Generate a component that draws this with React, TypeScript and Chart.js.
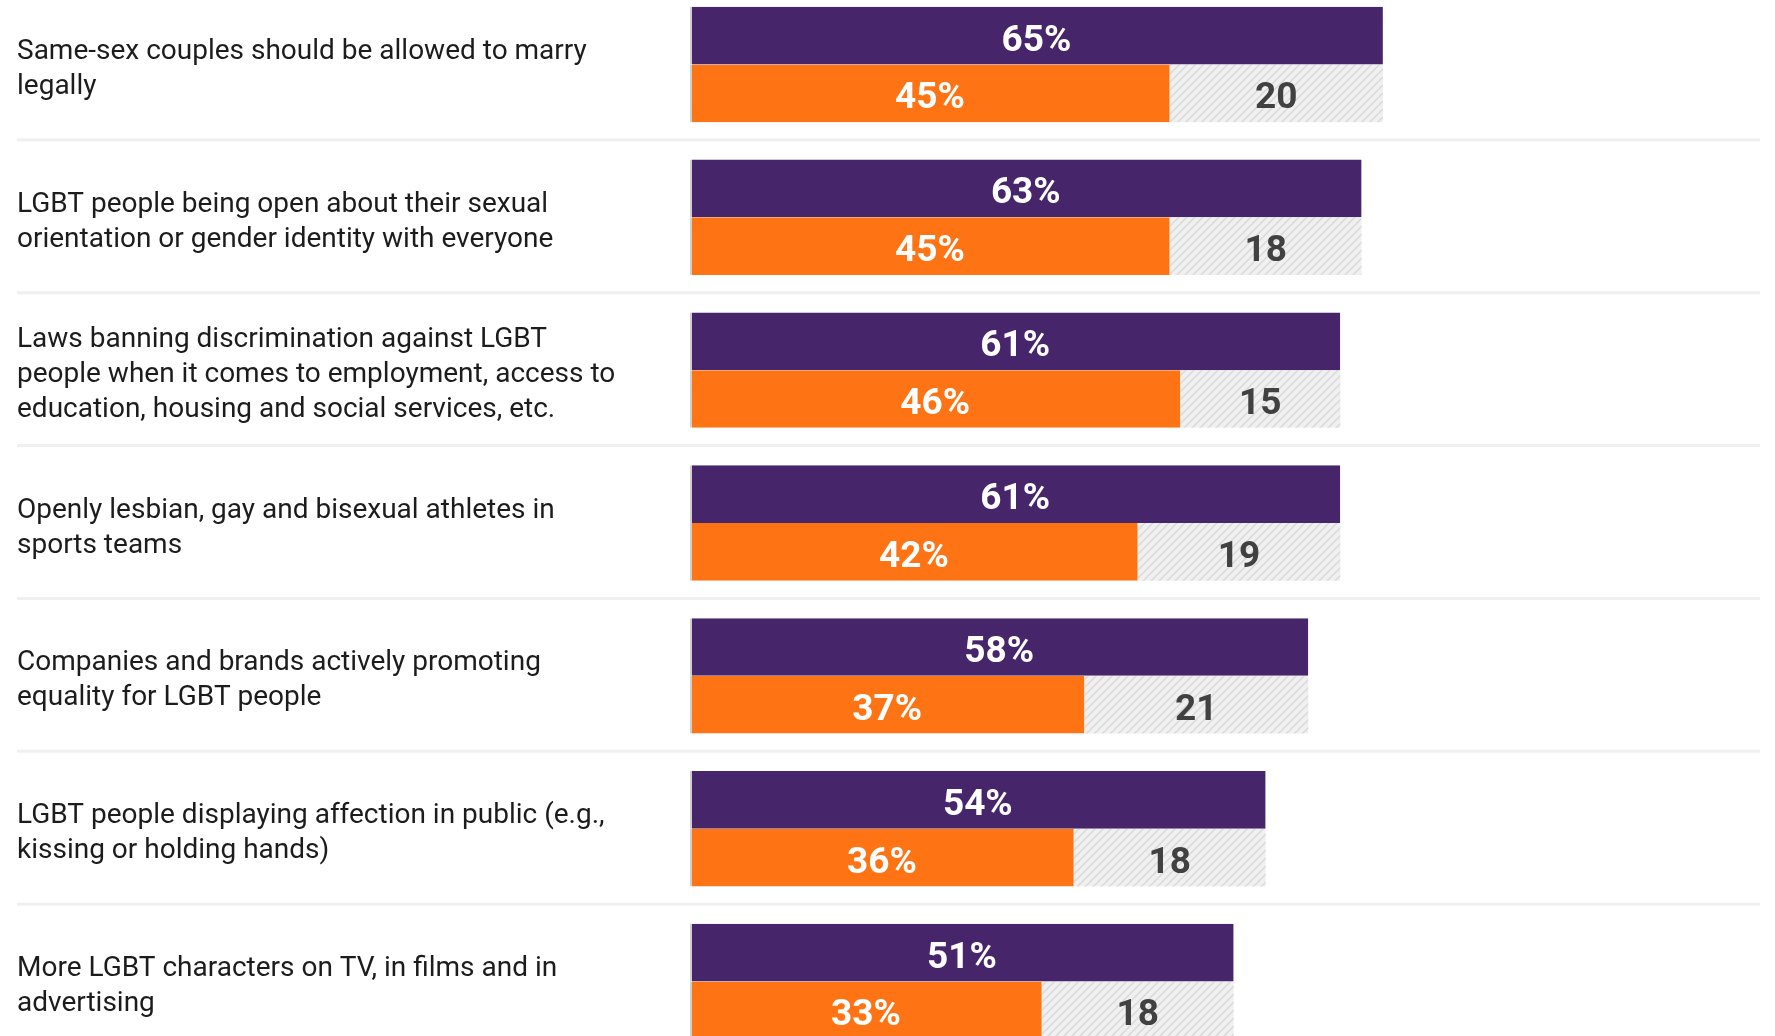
import React, { useEffect, useRef } from 'react';
import { Chart, registerables } from 'chart.js';

Chart.register(...registerables);

const categories: string[][] = [
  ['Same-sex couples should be allowed to marry', 'legally'],
  ['LGBT people being open about their sexual', 'orientation or gender identity with everyone'],
  ['Laws banning discrimination against LGBT', 'people when it comes to employment, access to', 'education, housing and social services, etc.'],
  ['Openly lesbian, gay and bisexual athletes in', 'sports teams'],
  ['Companies and brands actively promoting', 'equality for LGBT people'],
  ['LGBT people displaying affection in public (e.g.,', 'kissing or holding hands)'],
  ['More LGBT characters on TV, in films and in', 'advertising'],
];

const totalValues = [65, 63, 61, 61, 58, 54, 51];
const strongValues = [45, 45, 46, 42, 37, 36, 33];
const somewhatValues = [20, 18, 15, 19, 21, 18, 18];

const PURPLE = '#46256a';
const ORANGE = '#fe7414';

function makeHatch(): CanvasPattern | string {
  const c = document.createElement('canvas');
  const s = 8;
  c.width = s;
  c.height = s;
  const ctx = c.getContext('2d');
  if (!ctx) return '#efefef';
  ctx.fillStyle = '#f0f0f0';
  ctx.fillRect(0, 0, s, s);
  ctx.strokeStyle = '#d9d9d9';
  ctx.lineWidth = 1.5;
  ctx.beginPath();
  ctx.moveTo(0, s);
  ctx.lineTo(s, 0);
  ctx.moveTo(-s / 2, s / 2);
  ctx.lineTo(s / 2, -s / 2);
  ctx.moveTo(s / 2, s * 1.5);
  ctx.lineTo(s * 1.5, s / 2);
  ctx.stroke();
  return ctx.createPattern(c, 'repeat') || '#efefef';
}

const separatorPlugin = {
  id: 'separators',
  beforeDatasetsDraw(chart: any) {
    const y = chart.scales.y;
    const ctx = chart.ctx;
    ctx.save();
    ctx.strokeStyle = '#f0f0f0';
    ctx.lineWidth = 3;
    for (let i = 0; i < categories.length; i++) {
      const py = (y.getPixelForValue(i) + y.getPixelForValue(i + 1)) / 2 - 1;
      ctx.beginPath();
      ctx.moveTo(17, py);
      ctx.lineTo(chart.chartArea.right + 4, py);
      ctx.stroke();
    }
    ctx.restore();
  },
};

const valueLabelPlugin = {
  id: 'valueLabels',
  afterDatasetsDraw(chart: any) {
    const ctx = chart.ctx;
    ctx.save();
    ctx.font = 'bold 37px Roboto';
    ctx.textAlign = 'center';
    ctx.textBaseline = 'alphabetic';
    chart.data.datasets.forEach((ds: any, di: number) => {
      const meta = chart.getDatasetMeta(di);
      meta.data.forEach((el: any, i: number) => {
        const v = ds.data[i];
        const txt = di === 2 ? String(v) : v + '%';
        ctx.fillStyle = di === 2 ? '#414141' : '#ffffff';
        const cx = (el.x + el.base) / 2;
        ctx.fillText(txt, cx, el.y + 15);
      });
    });
    ctx.restore();
  },
};

const leftEdge = { top: 0, right: 0, bottom: 0, left: 2 };

export default function App() {
  const ref = useRef<HTMLCanvasElement>(null);

  useEffect(() => {
    if (!ref.current) return;
    Chart.defaults.font.family = 'Roboto';
    const hatch = makeHatch();
    const chart = new Chart(ref.current, {
      type: 'bar',
      data: {
        labels: categories as any,
        datasets: [
          { label: 'Total', data: totalValues, backgroundColor: PURPLE, borderColor: '#cfcfcf', borderWidth: leftEdge, borderSkipped: false, stack: 'top', categoryPercentage: 0.755, barPercentage: 1 },
          { label: 'Strongly', data: strongValues, backgroundColor: ORANGE, borderColor: '#cfcfcf', borderWidth: leftEdge, borderSkipped: false, stack: 'bottom', categoryPercentage: 0.755, barPercentage: 1 },
          { label: 'Somewhat', data: somewhatValues, backgroundColor: hatch as any, borderWidth: 0, stack: 'bottom', categoryPercentage: 0.755, barPercentage: 1 },
        ],
      },
      options: {
        indexAxis: 'y',
        animation: false,
        responsive: false,
        devicePixelRatio: 1,
        layout: { padding: { left: 17, right: 19, top: 0, bottom: 0 } },
        plugins: { legend: { display: false }, tooltip: { enabled: false } },
        scales: {
          x: { display: false, stacked: true, min: 0, max: 100 },
          y: {
            grid: { display: false },
            border: { display: false },
            ticks: {
              crossAlign: 'far',
              labelOffset: 5,
              color: '#1c1c1c',
              font: { family: 'Roboto', size: 28, lineHeight: 1.25 },
            },
            afterFit(scale: any) {
              scale.width = 690 - 17;
              scale.paddingTop = 0;
              scale.paddingBottom = 0;
            },
          },
        },
      },
      plugins: [separatorPlugin, valueLabelPlugin],
    });
    return () => chart.destroy();
  }, []);

  return (
    <div style={{ position: 'fixed', left: 0, top: 0, width: 1775, height: 1036, overflow: 'hidden', background: '#fff' }}>
      <canvas ref={ref} width={1775} height={1070} style={{ position: 'absolute', left: 0, top: -12 }} />
    </div>
  );
}
